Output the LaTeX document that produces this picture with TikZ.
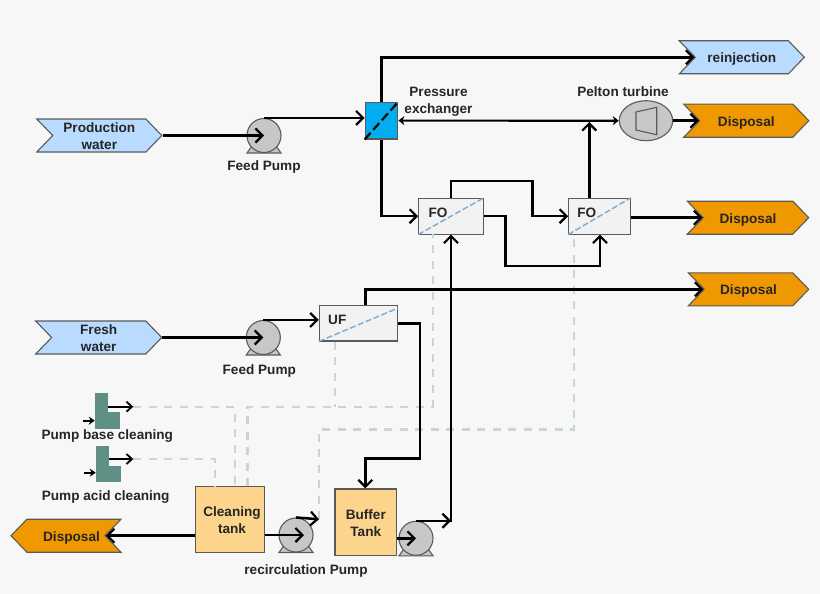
\documentclass[tikz,border=0pt]{standalone}
\usepackage{fontspec}
\setmainfont{Liberation Sans}
\usepackage{xcolor}
\usetikzlibrary{shapes.geometric, shapes.symbols, arrows, arrows.meta, positioning, calc}

\definecolor{bgcol}{HTML}{F7F7F7}
\definecolor{inflow}{HTML}{B9DBFF}
\definecolor{outflow}{HTML}{F09800}
\definecolor{tankcol}{HTML}{FDD48C}
\definecolor{chemcol}{HTML}{5F8F85}
\definecolor{cleancol}{HTML}{C7D8D4}
\definecolor{edgecol}{HTML}{5A5A5A}
\definecolor{pxcol}{HTML}{00AEEF}
\definecolor{membcol}{HTML}{7FA9CF}

\tikzset{
    lbl/.style={font=\fontsize{13.6}{17}\selectfont\bfseries, text=black!85, align=center, inner sep=0pt},
    tag/.style={signal, signal pointer angle=92, draw=edgecol, line width=1.1pt, inner sep=0pt, lbl, minimum height=33pt},
    tagin/.style={tag, signal to=east, signal from=west, fill=inflow},
    tagout/.style={tag, signal to=east, signal from=west, fill=outflow},
    oneline/.style={text height=10.8pt, text depth=0pt},
    unitbox/.style={rectangle, draw=edgecol, line width=1.1pt, fill=black!5, inner sep=0pt},
    tankbox/.style={rectangle, draw=edgecol, line width=1.1pt, fill=tankcol, inner sep=0pt, lbl},
    chembox/.style={rectangle, fill=chemcol, inner sep=0pt},
    pumpbody/.style={circle, draw=edgecol, line width=1.1pt, fill=black!22, minimum size=34pt, inner sep=0pt},
    flow/.style={draw=black, line width=2.5pt, -{Straight Barb[length=7pt,width=14pt,line width=2.2pt]}},
    smallflow/.style={draw=black, line width=2.2pt, -{Straight Barb[length=5.5pt,width=10pt,line width=1.8pt]}},
    minitip/.style={draw=black, line width=2pt, -{Stealth[length=6pt,width=8pt]}},
    wash/.style={draw=cleancol, line width=2.4pt, dash pattern=on 8pt off 7.5pt},
    membrane/.style={draw=membcol, line width=1.4pt, dash pattern=on 6pt off 2.5pt},
}

\newcommand{\upstrut}{\rule{0pt}{11.5pt}}
\newcommand{\pumpnode}[2]{%
    \draw[draw=edgecol, line width=1.1pt, fill=black!22, shift={(#2)}] (-17,17.5) -- (-11,9) -- (11,9) -- (17,17.5) -- cycle;
    \node (#1) [pumpbody] at (#2) {};
}

\begin{document}
\begin{tikzpicture}[x=1pt, y=-1pt, node distance=30pt]
    \useasboundingbox (0,0) rectangle (820,594);
    \fill[bgcol] (0,0) rectangle (820,594);

    % Streams
    \node (prod) [tagin, minimum width=125pt] at (99.3,135.5) {\upstrut Production\\water};
    \node (fresh) [tagin, minimum width=126pt] at (98.7,337.5) {\upstrut Fresh\\water};
    \node (reinj) [tagin, oneline, minimum width=125pt] at (741.8,57.3) {reinjection};
    \node (outa) [tagout, oneline, minimum width=125pt] at (746.3,120.7) {Disposal};
    \node (outb) [tagout, oneline, minimum width=121.4pt] at (748,217.7) {Disposal};
    \node (outc) [tagout, oneline, minimum width=120.4pt] at (748.5,289.3) {Disposal};
    \node (outd) [tag, oneline, signal to=west, signal from=east, fill=outflow, minimum width=110pt] at (66,535.7) {\hspace*{11pt}Disposal};

    % Units
    \node (px) [rectangle, draw=edgecol, line width=1.1pt, fill=pxcol, minimum width=32.7pt, minimum height=36.7pt] at (381.5,120.6) {};
    \node (foa) [unitbox, minimum width=64.6pt, minimum height=35.7pt] at (451,216.2) {};
    \node (fob) [unitbox, minimum width=61.6pt, minimum height=35.7pt] at (599.5,216.2) {};
    \node (uf) [unitbox, minimum width=78pt, minimum height=35.3pt] at (358.3,323.3) {};
    \node (turb) [ellipse, draw=edgecol, line width=1.1pt, fill=black!22, minimum width=53.4pt, minimum height=40pt, inner sep=0pt] at (646,120.7) {};
    \draw[draw=edgecol, line width=1.1pt] (636,112) -- (656.7,107.3) -- (656.7,134.7) -- (636,130) -- cycle;
    \node (clean) [tankbox, minimum width=68.6pt, minimum height=65.6pt] at (230,519.5) {\hspace*{4pt}\upstrut Cleaning\\\hspace*{4pt}tank};
    \node (buffer) [tankbox, minimum width=61.7pt, minimum height=66.7pt] at (365.8,522.3) {\upstrut Buffer\\Tank};

    % Pumps
    \pumpnode{pumpa}{264,135.5}
    \pumpnode{pumpb}{263.3,337.5}
    \pumpnode{pumpc}{296,535}
    \pumpnode{pumpd}{416,538.3}

    % Chemical dosing
    \node (basel) [chembox, minimum width=25pt, minimum height=16.7pt] at (107.5,420.7) {};
    \node (baseu) [chembox, minimum width=12.7pt, minimum height=19.5pt] at (101.3,403) {};
    \node (acidl) [chembox, minimum width=24.7pt, minimum height=16pt] at (108.3,473.7) {};
    \node (acidu) [chembox, minimum width=13pt, minimum height=20.5pt] at (102.5,456) {};
    \coordinate (baseout) at (133.3,406.7);
    \coordinate (acidout) at (133.3,459);
    \coordinate (basein) at (83,420.7);
    \coordinate (acidin) at (84,472.7);
    \coordinate (recout) at (319,519.3);

    % Labels
    \node (pumpatxt) [lbl, below of=pumpa, yshift=-1pt] {Feed Pump};
    \node (pumpbtxt) [lbl, below of=pumpb, xshift=-4pt, yshift=-3pt] {Feed Pump};
    \node (pumpctxt) [lbl, below of=pumpc, yshift=-5.5pt, xshift=10pt] {recirculation Pump};
    \node (pxtxt) [lbl, right of=px, xshift=27pt, yshift=19pt] {Pressure\\exchanger};
    \node (turbtxt) [lbl, above of=turb, xshift=-23pt, yshift=-1pt] {Pelton turbine};
    \node (foatxt) [lbl] at (438,213) {FO};
    \node (fobtxt) [lbl] at (586.7,213) {FO};
    \node (uftxt) [lbl] at (337.3,320) {UF};
    \node (basetxt) [lbl] at (107.3,436) {Pump base cleaning};
    \node (acidtxt) [lbl] at (105.7,497) {Pump acid cleaning};

    % Cleaning lines
    \draw[wash] (baseout) -| (clean.north -| 235,0);
    \draw[wash] (acidout) -| (clean.north -| 215,0);
    \draw[wash] (clean.north -| 247.3,0) |- (433,406.7) -- (433,234);
    \draw[wash] (uf.south -| 335,0) -- (335,406.7);
    \draw[wash] (recout) |- (574,429.5) -- (574,234);

    % Membranes
    \draw[membrane] (foa.south west) -- (foa.north east);
    \draw[membrane] (fob.south west) -- (fob.north east);
    \draw[membrane] (uf.south west) -- ([yshift=-3pt]uf.north east);
    \draw[black, line width=2.2pt, dash pattern=on 9pt off 4pt] (px.south west) -- (px.north east);

    % Flows
    \draw[flow] (prod.east) -- (pumpa.center);
    \draw[flow] (pumpa.north) -- (pumpa.north -| px.west);
    \draw[flow] (px.north) |- (reinj.west);
    \draw[flow] (px.south) |- (foa.west);
    \draw[draw=black, line width=2.2pt, {Stealth[length=6pt,width=9pt]}-{Stealth[length=6pt,width=9pt]}] (px.east) -- (turb.west);
    \draw[flow] (turb.east) -- (outa.west);
    \draw[flow] (foa.north) |- (532.3,181) |- (fob.west);
    \draw[flow] (foa.east) -| (505.7,266) -| (fob.south -| 600,0);
    \draw[flow] (fob.north -| 589.3,0) -- (589.3,122);
    \draw[flow] (fob.east |- outb.west) -- (outb.west);

    \draw[flow] (fresh.east) -- (pumpb.center);
    \draw[flow] (pumpb.north) -- (pumpb.north -| uf.west);
    \draw[flow] (uf.north -| 365.3,0) |- (outc.west);
    \draw[flow] (uf.east) -| (420,458.3) -| (buffer.north -| 365.3,0);

    \draw[flow] (buffer.east |- pumpd) -- (pumpd.center);
    \draw[flow] (pumpd.north) -- (pumpd.north -| 451,0);
    \draw[flow] (451,522) -- (foa.south);

    \draw[flow] (clean.east |- pumpc) -- ([xshift=8pt]pumpc.center);
    \draw[flow] (pumpc.north) -- (recout);
    \draw[flow] (clean.west |- outd) -- (outd.east);

    \draw[smallflow] (baseu.east |- baseout) -- (baseout);
    \draw[smallflow] (acidu.east |- acidout) -- (acidout);
    \draw[minitip] (basein) -- (basein -| basel.west);
    \draw[minitip] (acidin) -- (acidin -| acidl.west);
\end{tikzpicture}
\end{document}
